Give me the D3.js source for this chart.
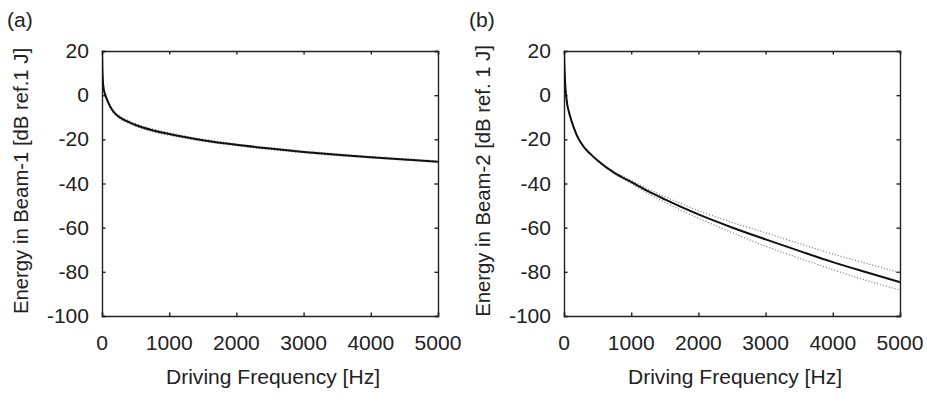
<!DOCTYPE html>
<html>
<head>
<meta charset="utf-8">
<script src="https://cdnjs.cloudflare.com/ajax/libs/d3/7.8.5/d3.min.js"></script>
<style>
  body { margin: 0; background: #fff; }
  text { font-family: "Liberation Sans", Arial, sans-serif; fill: #222; }
</style>
</head>
<body>
<div id="chart"></div>
<script>
var w = 927;
var h = 394;

// data
var freqs = [0, 5, 10, 20, 35, 50, 75, 100, 150, 200, 300, 400, 500, 750, 1000, 1250, 1500, 2000, 2500, 3000, 3500, 4000, 4500, 5000];

var beam1 = [20, 12, 8, 4, 1.5, 0, -2, -3.8, -6.6, -8.5, -10.7, -12.2, -13.5, -15.9, -17.6, -19.1, -20.4, -22.5, -24.2, -25.7, -27, -28.1, -29.1, -30.1];
var beam1Upper = [20, 12.6, 8.6, 4.6, 2.1, 0.6, -1.4, -3.2, -6, -7.9, -10.1, -11.6, -12.9, -15.3, -17, -18.6, -19.9, -22.1, -23.8, -25.3, -26.6, -27.8, -28.8, -29.8];
var beam1Lower = [20, 11.4, 7.4, 3.4, 0.9, -0.6, -2.6, -4.4, -7.2, -9.1, -11.3, -12.8, -14.1, -16.5, -18.2, -19.6, -20.9, -22.9, -24.6, -26.1, -27.4, -28.4, -29.4, -30.4];

var beam2 = [20, 14, 10, 4, -1, -4.5, -7.8, -10.5, -15, -18.8, -23.6, -26.8, -29.6, -35.2, -39.3, -43.5, -47.2, -54, -59.9, -65.3, -70.5, -75.6, -80.2, -84.7];
var beam2Upper = [20, 14, 10, 4, -1, -4.5, -7.8, -10.5, -15, -18.8, -23.6, -26.7, -29.4, -34.8, -38.6, -42.5, -45.9, -52.3, -57.6, -62.3, -67.2, -71.9, -76.2, -80.4];
var beam2Lower = [20, 14, 10, 4, -1, -4.5, -7.8, -10.5, -15, -18.8, -23.6, -26.9, -29.8, -35.6, -40, -44.5, -48.5, -55.7, -62.2, -68.4, -73.8, -79, -83.9, -88.2];

var xTicks = [0, 1000, 2000, 3000, 4000, 5000];
var yTicks = [20, 0, -20, -40, -60, -80, -100];

var xLabel = "Driving Frequency [Hz]";
var panels = [
  { tag: "(a)", ylabel: "Energy in Beam-1 [dB ref.1 J]", mean: beam1, upper: beam1Upper, lower: beam1Lower, left: 102 },
  { tag: "(b)", ylabel: "Energy in Beam-2 [dB ref. 1 J]", mean: beam2, upper: beam2Upper, lower: beam2Lower, left: 564 }
];

var plotTop = 51, plotBottom = 316, pw = 336;
var fs = 19.5, sx = 1.08;

var svg = d3.select("#chart").append("svg")
  .attr("width", w)
  .attr("height", h);

// text stretched a bit sideways like the original
const label = (g, x, y, str, anchor) => {
  return g.append("text")
    .attr("transform", "translate(" + x + "," + y + ") scale(" + sx + ",1)")
    .attr("text-anchor", anchor)
    .attr("font-size", fs)
    .text(str);
};

panels.forEach(function (p, i) {
  var x = d3.scaleLinear().domain([0, 5000]).range([p.left, p.left + pw]);
  var y = d3.scaleLinear().domain([-100, 20]).range([plotBottom, plotTop]);
  var g = svg.append("g");

  g.append("clipPath").attr("id", "clip" + i)
    .append("rect")
    .attr("x", p.left).attr("y", plotTop)
    .attr("width", pw).attr("height", plotBottom - plotTop);

  // axes, ticks inward on all four sides
  var tl = 3.5;
  g.append("g").attr("transform", "translate(0," + plotBottom + ")")
    .call(d3.axisBottom(x).tickValues(xTicks).tickSize(-tl).tickFormat(""));
  g.append("g").attr("transform", "translate(0," + plotTop + ")")
    .call(d3.axisTop(x).tickValues(xTicks).tickSize(-tl).tickFormat(""));
  g.append("g").attr("transform", "translate(" + p.left + ",0)")
    .call(d3.axisLeft(y).tickValues(yTicks).tickSize(-tl).tickFormat(""));
  g.append("g").attr("transform", "translate(" + (p.left + pw) + ",0)")
    .call(d3.axisRight(y).tickValues(yTicks).tickSize(-tl).tickFormat(""));
  g.selectAll(".domain, .tick line")
    .attr("stroke", "#222")
    .attr("stroke-width", 1.4);

  // lines
  var line = d3.line()
    .x(function (d, j) { return x(freqs[j]); })
    .y(function (d) { return y(d); })
    .curve(d3.curveMonotoneX);
  var lines = g.append("g").attr("clip-path", "url(#clip" + i + ")");
  [p.upper, p.lower].forEach(function (s) {
    lines.append("path")
      .attr("d", line(s))
      .attr("fill", "none")
      .attr("stroke", "#777")
      .attr("stroke-width", 1.2)
      .attr("stroke-dasharray", "1,2");
  });
  lines.append("path")
    .attr("d", line(p.mean))
    .attr("fill", "none")
    .attr("stroke", "#111")
    .attr("stroke-width", 2);

  // tick labels
  xTicks.forEach(function (t) {
    label(g, x(t), 350, t, "middle");
  });
  yTicks.forEach(function (t) {
    label(g, p.left - 13, y(t) + 7, t, "end");
  });

  // titles
  label(g, p.left + pw / 2 + 3, 384, xLabel, "middle");
  g.append("text")
    .attr("transform", "translate(" + (p.left - 74) + ",181) rotate(-90)")
    .attr("text-anchor", "middle")
    .attr("font-size", 20.3)
    .text(p.ylabel);
  label(g, p.left - 95, 27, p.tag, "start");
});
</script>
</body>
</html>
